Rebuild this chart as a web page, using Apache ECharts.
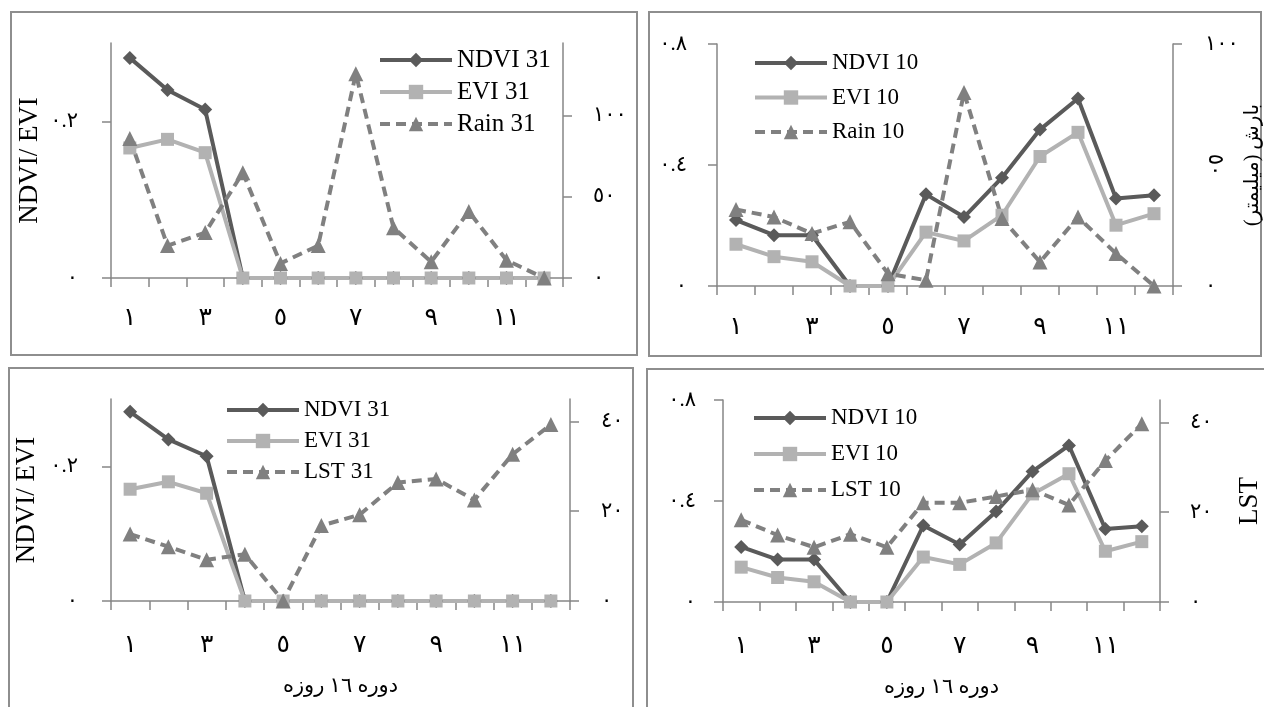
<!DOCTYPE html>
<html>
<head>
<meta charset="utf-8">
<script src="https://cdn.jsdelivr.net/npm/echarts@6/dist/echarts.min.js"></script>
<style>
html,body{margin:0;padding:0;background:#fff;}
#c{width:1264px;height:707px;}
</style>
</head>
<body>
<div id="c"></div>
<script>
// ---- data ----
const categories = ['1','2','3','4','5','6','7','8','9','10','11','12'];
const ndvi31 = [0.281, 0.240, 0.215, 0, 0, 0, 0, 0, 0, 0, 0, 0];
const evi31  = [0.166, 0.177, 0.160, 0, 0, 0, 0, 0, 0, 0, 0, 0];
const rain31 = [86, 20, 28, 65, 9, 20, 126, 31, 10, 41, 11, 0];
const lst31  = [14.9, 12.1, 9.2, 10.4, 0, 16.8, 19.2, 26.4, 27.2, 22.5, 32.7, 39.3];
const ndvi10 = [0.218, 0.168, 0.168, 0, 0, 0.303, 0.228, 0.358, 0.517, 0.620, 0.289, 0.300];
const evi10  = [0.138, 0.097, 0.080, 0, 0, 0.178, 0.149, 0.234, 0.428, 0.508, 0.201, 0.239];
const rain10 = [31.6, 28.5, 21.7, 26.5, 5.1, 2.4, 80, 27.9, 9.9, 28.5, 13.4, 0];
const lst10  = [18.3, 14.9, 12.2, 15.1, 12.2, 22.1, 22.1, 23.5, 25.0, 21.6, 31.5, 39.7];

// tick labels
const ticksIdx31 = [0, 0.2];
const ticksIdx10 = [0, 0.4, 0.8];
const ticksRain31 = [0, 50, 100];
const ticksRain10 = [0, 100];
const ticksRain10Rot = [50];
const ticksLst = [0, 20, 40];

const xTitle = 'دوره ١٦ روزه';
const idxTitle = 'NDVI/ EVI';
const rainTitle = '\u200Fبارش (میلیمتر)\u200F';
const lstTitle = 'LST';

// ---- helpers ----
const AR = '٠١٢٣٤٥٦٧٨٩';
function ar(v){ return String(v).replace(/[0-9]/g, d => AR[+d]); }
const SERIF = '"Liberation Serif","Times New Roman","DejaVu Sans",serif';
const AXC = '#868686';

const chart = echarts.init(document.getElementById('c'), null, {renderer:'canvas'});

const grids = [
  {left:111, top:43, width:452, height:235},
  {left:717, top:44, width:456, height:242},
  {left:111, top:399, width:459, height:202},
  {left:723, top:400, width:453, height:202}
];

function xAx(gi, withName, margin){
  const a = {
    type:'category', gridIndex:gi, data:categories.map(ar), boundaryGap:true,
    axisLine:{show:true, lineStyle:{color:AXC, width:1.5}},
    axisTick:{show:true, interval:0, inside:false, length:9, lineStyle:{color:AXC, width:1.5}},
    axisLabel:{interval:1, margin:margin, fontSize:25, fontFamily:SERIF, color:'#000'},
    splitLine:{show:false}
  };
  if(withName){
    a.name = xTitle; a.nameLocation='middle'; a.nameGap = 75;
    a.nameTextStyle = {fontSize:21, fontFamily:SERIF, color:'#000'};
  }
  return a;
}
function yAx(gi, pos, max, ticks, margin, name, nameGap, nameSize, rot){
  const a = {
    type:'value', gridIndex:gi, position:pos, min:0, max:max,
    axisLine:{show:true, lineStyle:{color:AXC, width:1.5}},
    axisTick:{show:true, length:9, customValues:ticks, lineStyle:{color:AXC, width:1.5}},
    axisLabel:{customValues:ticks, margin:margin, fontSize:21, fontFamily:SERIF, color:'#000', formatter:v=>ar(v)},
    splitLine:{show:false}
  };
  if(name){
    a.name = name; a.nameLocation='middle'; a.nameGap=nameGap; a.nameRotate = rot;
    a.nameTextStyle = {fontSize:nameSize, fontFamily:SERIF, color:'#000'};
  }
  return a;
}

const yAxes = [
  yAx(0,'left',0.3,ticksIdx31,33,idxTitle,68,27,90),
  yAx(0,'right',145,ticksRain31,30),
  yAx(1,'left',0.8,ticksIdx10,30),
  yAx(1,'right',100,ticksRain10,32,rainTitle,58,20,90),
  yAx(2,'left',0.3,ticksIdx31,33,idxTitle,71,27,90),
  yAx(2,'right',45,ticksLst,31),
  yAx(3,'left',0.8,ticksIdx10,27),
  yAx(3,'right',45,ticksLst,30,lstTitle,76,27,90)
];
// rotated "50" label on rain axis of panel 2
yAxes.push({
  type:'value', gridIndex:1, position:'right', min:0, max:100,
  axisLine:{show:false}, axisTick:{show:false}, splitLine:{show:false},
  axisLabel:{customValues:ticksRain10Rot, rotate:-90, margin:31, fontSize:21, fontFamily:SERIF, color:'#000', formatter:v=>ar(v)}
});

const C_NDVI = '#5a5a5a', C_EVI = '#b2b2b2', C_DASH = '#808080';
function sNdvi(name, data, xi, yi){
  return {name, type:'line', data, xAxisIndex:xi, yAxisIndex:yi, symbol:'diamond', symbolSize:14, showAllSymbol:true,
    lineStyle:{color:C_NDVI, width:4}, itemStyle:{color:C_NDVI}, emphasis:{disabled:true}};
}
function sEvi(name, data, xi, yi){
  return {name, type:'line', data, xAxisIndex:xi, yAxisIndex:yi, symbol:'rect', symbolSize:13, showAllSymbol:true,
    lineStyle:{color:C_EVI, width:4}, itemStyle:{color:C_EVI}, emphasis:{disabled:true}};
}
function sDash(name, data, xi, yi){
  return {name, type:'line', data, xAxisIndex:xi, yAxisIndex:yi, symbol:'triangle', symbolSize:15, showAllSymbol:true,
    lineStyle:{color:C_DASH, width:4, type:[10,6]}, itemStyle:{color:C_DASH}, emphasis:{disabled:true}};
}

function legend(left, top, names, fs, gap){
  return {orient:'vertical', left, top, itemWidth:72, itemHeight:18, itemGap:gap, selectedMode:false,
    lineStyle:{width:4}, 
    textStyle:{fontFamily:SERIF, fontSize:fs, lineHeight:26, color:'#000'}, data:names};
}

const border = (x,y,w,h) => ({type:'rect', shape:{x,y,width:w,height:h}, style:{fill:'none', stroke:'#8e8e8e', lineWidth:2}, silent:true});

chart.setOption({
  animation:false,
  backgroundColor:'#fff',
  graphic:[
    border(11,12,626,343),
    border(649,12,612,344),
    border(9,368,624,345),
    border(647,369,625,345)
  ],
  grid:grids,
  xAxis:[xAx(0,false,28), xAx(1,false,29), xAx(2,true,32), xAx(3,true,32)],
  yAxis:yAxes,
  legend:[
    legend(373, 42, ['NDVI 31','EVI 31','Rain 31'], 25, 6),
    legend(748, 45, ['NDVI 10','EVI 10','Rain 10'], 23, 8.5),
    legend(220, 392, ['NDVI 31','EVI 31','LST 31'], 23, 5),
    legend(747, 400, ['NDVI 10','EVI 10','LST 10'], 23, 10)
  ],
  series:[
    sNdvi('NDVI 31', ndvi31, 0, 0), sEvi('EVI 31', evi31, 0, 0), sDash('Rain 31', rain31, 0, 1),
    sNdvi('NDVI 10', ndvi10, 1, 2), sEvi('EVI 10', evi10, 1, 2), sDash('Rain 10', rain10, 1, 3),
    sNdvi('NDVI 31', ndvi31, 2, 4), sEvi('EVI 31', evi31, 2, 4), sDash('LST 31', lst31, 2, 5),
    sNdvi('NDVI 10', ndvi10, 3, 6), sEvi('EVI 10', evi10, 3, 6), sDash('LST 10', lst10, 3, 7)
  ]
});
</script>
</body>
</html>
